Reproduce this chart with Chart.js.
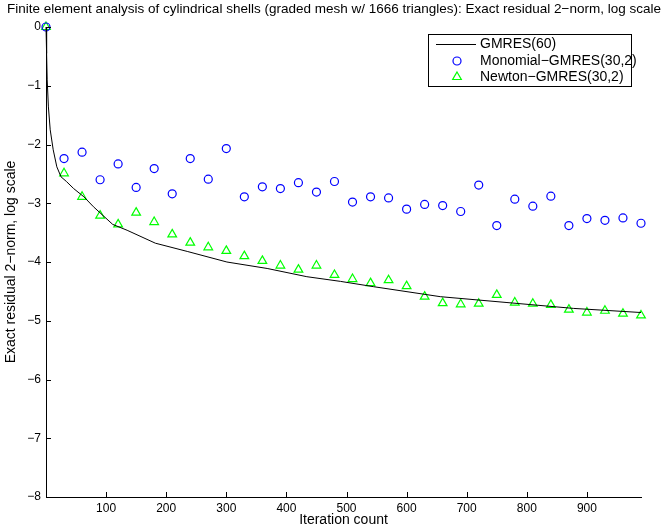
<!DOCTYPE html>
<html>
<head>
    <title>Cylindrical shells - exact residual</title>
    <script src="https://cdn.jsdelivr.net/npm/chart.js"></script>
    <style>
        body { margin: 0; background: #fff; }
        #wrap { width: 667px; height: 529px; }
    </style>
</head>
<body>
    <div id="wrap"><canvas id="chart" width="667" height="529"></canvas></div>

    <script>
        // sample points of the restarted methods (every 30 iterations)
        const iterations = [0, 30, 60, 90, 120, 150, 180, 210, 240, 270, 300, 330, 360, 390, 420, 450, 480,
                            510, 540, 570, 600, 630, 660, 690, 720, 750, 780, 810, 840, 870, 900, 930, 960, 990];
        const monomialRes = [0, -2.24, -2.13, -2.60, -2.33, -2.73, -2.41, -2.84, -2.24, -2.59, -2.07, -2.89, -2.72, -2.75, -2.65, -2.81, -2.63,
                             -2.98, -2.89, -2.91, -3.10, -3.02, -3.04, -3.14, -2.69, -3.38, -2.93, -3.05, -2.88, -3.38, -3.26, -3.29, -3.25, -3.34];
        const newtonRes = [0, -2.49, -2.89, -3.21, -3.36, -3.16, -3.32, -3.53, -3.67, -3.75, -3.81, -3.90, -3.98, -4.06, -4.13, -4.06, -4.22,
                           -4.29, -4.36, -4.31, -4.41, -4.59, -4.70, -4.72, -4.71, -4.56, -4.69, -4.71, -4.73, -4.81, -4.86, -4.83, -4.88, -4.91];

        // GMRES(60) curve
        const gmresIter = [0, 1, 2, 4, 7, 12, 18, 25, 34, 46, 63, 79, 111, 135, 182, 235, 301, 368, 434, 490, 545, 656, 767, 878, 990];
        const gmresRes = [0, -0.45, -0.9, -1.36, -1.75, -2.09, -2.38, -2.55, -2.63, -2.75, -2.89, -3.06, -3.36, -3.46, -3.68, -3.82,
                          -4.0, -4.11, -4.25, -4.33, -4.42, -4.59, -4.69, -4.79, -4.86];

        const xTicks = [100, 200, 300, 400, 500, 600, 700, 800, 900];
        const yTicks = [-8, -7, -6, -5, -4, -3, -2, -1, 0];

        const seriesNames = ['GMRES(60)', 'Monomial\u2212GMRES(30,2)', 'Newton\u2212GMRES(30,2)'];
        const chartTitle = 'Finite element analysis of cylindrical shells (graded mesh w/ 1666 triangles): Exact residual 2\u2212norm, log scale';

        const FONT = '"Liberation Sans", Arial, Helvetica, sans-serif';

        const toPoints = (xs, ys) => xs.map((x, i) => ({ x: x, y: ys[i] }));
        const minus = v => String(v).replace('-', '\u2212');

        function triangle(ctx, x, y, r) {
            ctx.beginPath();
            ctx.moveTo(x, y - r);
            ctx.lineTo(x + r * 0.866, y + r * 0.5);
            ctx.lineTo(x - r * 0.866, y + r * 0.5);
            ctx.closePath();
            ctx.stroke();
        }

        // title, inward tick marks and the boxed legend, MATLAB style
        const decorations = {
            id: 'decorations',
            afterDraw(chart) {
                const ctx = chart.ctx;
                const area = chart.chartArea;
                const xs = chart.scales.x, ys = chart.scales.y;
                ctx.save();

                ctx.fillStyle = '#000';
                ctx.font = '13.5px ' + FONT;
                ctx.textAlign = 'center';
                ctx.textBaseline = 'middle';
                ctx.fillText(chartTitle, 334, 9);

                ctx.strokeStyle = '#000';
                ctx.lineWidth = 1;
                ctx.beginPath();
                xTicks.forEach(v => {
                    const px = Math.round(xs.getPixelForValue(v)) + 0.5;
                    ctx.moveTo(px, area.bottom);
                    ctx.lineTo(px, area.bottom - 5);
                });
                yTicks.forEach(v => {
                    const py = Math.round(ys.getPixelForValue(v)) + 0.5;
                    ctx.moveTo(area.left, py);
                    ctx.lineTo(area.left + 5, py);
                });
                ctx.stroke();

                // legend
                const lx = 428.5, ly = 34.5, lw = 203, lh = 52;
                ctx.fillStyle = '#fff';
                ctx.fillRect(lx, ly, lw, lh);
                ctx.strokeRect(lx, ly, lw, lh);
                const rows = [44, 61, 77];
                const ds = chart.data.datasets;

                ctx.strokeStyle = ds[0].borderColor;
                ctx.beginPath();
                ctx.moveTo(436, rows[0] + 0.5);
                ctx.lineTo(476, rows[0] + 0.5);
                ctx.stroke();

                ctx.lineWidth = ds[1].borderWidth;
                ctx.strokeStyle = ds[1].borderColor;
                ctx.beginPath();
                ctx.arc(457, rows[1], ds[1].pointRadius, 0, Math.PI * 2);
                ctx.stroke();

                ctx.strokeStyle = ds[2].borderColor;
                triangle(ctx, 457, rows[2], ds[2].pointRadius);

                ctx.fillStyle = '#000';
                ctx.font = '14px ' + FONT;
                ctx.textAlign = 'left';
                ds.forEach((d, i) => ctx.fillText(d.label, 480, rows[i]));

                ctx.restore();
            }
        };

        const axisFont = { family: FONT, size: 12 };
        const labelFont = { family: FONT, size: 14 };

        new Chart(document.getElementById('chart'), {
            type: 'scatter',
            data: {
                datasets: [{
                    label: seriesNames[0],
                    data: toPoints(gmresIter, gmresRes),
                    showLine: true,
                    borderColor: '#000',
                    borderWidth: 1,
                    pointRadius: 0,
                    tension: 0,
                    clip: false
                }, {
                    label: seriesNames[1],
                    data: toPoints(iterations, monomialRes),
                    borderColor: '#0000ff',
                    backgroundColor: 'rgba(0,0,0,0)',
                    borderWidth: 1.2,
                    pointRadius: 4,
                    pointStyle: 'circle',
                    clip: false
                }, {
                    label: seriesNames[2],
                    data: toPoints(iterations, newtonRes),
                    borderColor: '#00ff00',
                    backgroundColor: 'rgba(0,0,0,0)',
                    borderWidth: 1.2,
                    pointRadius: 5,
                    pointStyle: 'triangle',
                    clip: false
                }]
            },
            options: {
                responsive: false,
                animation: false,
                devicePixelRatio: 1,
                layout: { padding: { left: 0, top: 27, right: 26, bottom: 0 } },
                plugins: {
                    legend: { display: false },
                    tooltip: { enabled: false }
                },
                scales: {
                    x: {
                        type: 'linear',
                        min: 0,
                        max: 990,
                        grid: { display: false, drawTicks: false },
                        border: { display: true, color: '#000', width: 1 },
                        afterBuildTicks: s => { s.ticks = xTicks.map(v => ({ value: v })); },
                        afterFit: s => { s.height = 32; },
                        ticks: { color: '#000', font: axisFont, padding: 4, maxRotation: 0, callback: v => minus(v) },
                        title: { display: true, text: 'Iteration count', color: '#000', font: labelFont, padding: { top: 0, bottom: 0 } }
                    },
                    y: {
                        type: 'linear',
                        min: -8,
                        max: 0,
                        grid: { display: false, drawTicks: false },
                        border: { display: true, color: '#000', width: 1 },
                        afterBuildTicks: s => { s.ticks = yTicks.map(v => ({ value: v })); },
                        afterFit: s => { s.width = 46; },
                        ticks: { color: '#000', font: axisFont, padding: 5, callback: v => minus(v) },
                        title: { display: true, text: 'Exact residual 2\u2212norm, log scale', color: '#000', font: labelFont, padding: { top: 3, bottom: 0 } }
                    }
                }
            },
            plugins: [decorations]
        });
    </script>
</body>
</html>
